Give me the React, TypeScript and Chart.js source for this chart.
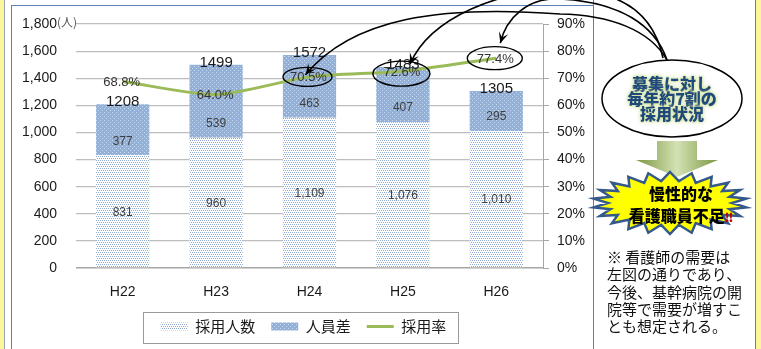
import React, { useEffect, useRef } from 'react';
import { Chart, registerables } from 'chart.js';

Chart.register(...registerables);

// ---- data ----
const categories = ['H22', 'H23', 'H24', 'H25', 'H26'];
const hiredCounts = [831, 960, 1109, 1076, 1010];
const staffGap = [377, 539, 463, 407, 295];
const hireRates = [68.8, 64.0, 70.5, 72.6, 77.4];
const seriesNames = ['採用人数', '人員差', '採用率'];
const circledIndexes = [2, 3, 4];
const leftMax = 1800;
const leftStep = 200;
const rightMax = 90;
const rightStep = 10;
const unitLabel = '(人)';

const FONT = "'Liberation Sans', Arial, 'Noto Sans CJK JP', sans-serif";
const CJK = "'Noto Sans CJK JP', 'Liberation Sans', sans-serif";

function makePattern(bg: string, dot: string, cells: number[][]) {
  const c = document.createElement('canvas');
  c.width = 4;
  c.height = 4;
  const g = c.getContext('2d')!;
  g.fillStyle = bg;
  g.fillRect(0, 0, 4, 4);
  g.fillStyle = dot;
  cells.forEach(([x, y]) => g.fillRect(x, y, 1, 1));
  return g.createPattern(c, 'repeat')!;
}

function arrowHead(ctx: CanvasRenderingContext2D, fx: number, fy: number, tx: number, ty: number) {
  const a = Math.atan2(ty - fy, tx - fx);
  const L = 12;
  const s = 0.42;
  ctx.beginPath();
  ctx.moveTo(tx, ty);
  ctx.lineTo(tx - L * Math.cos(a - s), ty - L * Math.sin(a - s));
  ctx.lineTo(tx - 6 * Math.cos(a), ty - 6 * Math.sin(a));
  ctx.lineTo(tx - L * Math.cos(a + s), ty - L * Math.sin(a + s));
  ctx.closePath();
  ctx.fill();
}

export default function App() {
  const ref = useRef<HTMLCanvasElement>(null);

  useEffect(() => {
    const canvas = ref.current!;
    const bottomPattern = makePattern('#ffffff', '#8faad2', [[0, 0], [2, 0], [1, 2], [3, 2]]);
    const topPattern = makePattern('#93b1d8', '#c9d9ee', [[0, 0], [2, 2]]);

    const valueLabels = {
      id: 'valueLabels',
      afterDatasetsDraw(chart: any) {
        const ctx = chart.ctx as CanvasRenderingContext2D;
        const m0 = chart.getDatasetMeta(0);
        const m1 = chart.getDatasetMeta(1);
        const m2 = chart.getDatasetMeta(2);
        ctx.save();
        ctx.textAlign = 'center';
        ctx.textBaseline = 'middle';
        ctx.fillStyle = '#404040';
        ctx.font = `12px ${FONT}`;
        m0.data.forEach((el: any, i: number) => {
          const { x, y, base } = el.getProps(['x', 'y', 'base'], true);
          ctx.fillText(hiredCounts[i].toLocaleString('en-US'), x, (y + base) / 2 + 1);
        });
        m1.data.forEach((el: any, i: number) => {
          const { x, base } = el.getProps(['x', 'base'], true);
          ctx.fillText(String(staffGap[i]), x, base - 14);
        });
        ctx.font = `15px ${FONT}`;
        ctx.fillStyle = '#1a1a1a';
        ctx.textBaseline = 'alphabetic';
        m1.data.forEach((el: any, i: number) => {
          const { x, y } = el.getProps(['x', 'y'], true);
          ctx.fillText(String(hiredCounts[i] + staffGap[i]), x, y + 2);
        });
        ctx.font = `13px ${FONT}`;
        ctx.fillStyle = '#333333';
        ctx.textBaseline = 'middle';
        m2.data.forEach((el: any, i: number) => {
          ctx.fillText(hireRates[i].toFixed(1) + '%', el.x - 1, el.y + 1);
        });
        ctx.restore();
      },
    };

    const decor = {
      id: 'decor',
      afterDraw(chart: any) {
        const ctx = chart.ctx as CanvasRenderingContext2D;
        const area = chart.chartArea;
        const yScale = chart.scales.y;
        ctx.save();

        // unit label
        ctx.font = `12px ${CJK}`;
        ctx.fillStyle = '#555';
        ctx.textAlign = 'left';
        ctx.textBaseline = 'middle';
        ctx.fillText(unitLabel, area.left - 19, yScale.getPixelForValue(leftMax) - 2);

        // legend frame
        const hb = chart.legend.legendHitBoxes;
        if (hb && hb.length) {
          const first = hb[0];
          const last = hb[hb.length - 1];
          const cy = first.top + first.height / 2;
          const l = Math.round(first.left - 18) + 0.5;
          const r = Math.round(last.left + last.width + 12) + 0.5;
          ctx.strokeStyle = '#9a9a9a';
          ctx.lineWidth = 1;
          ctx.strokeRect(l, Math.round(cy - 15) + 0.5, r - l, 31);
        }

        // ellipses around circled rates
        const m2 = chart.getDatasetMeta(2);
        const shapes: Record<number, number[]> = { 2: [-2, 0, 24.5, 9.5], 3: [-1.5, 2.5, 28.5, 12.5], 4: [-1.5, 0, 27.5, 11.5] };
        ctx.strokeStyle = '#000';
        ctx.lineWidth = 1.4;
        circledIndexes.forEach((i) => {
          const p = m2.data[i];
          const [dx, dy, rx, ry] = shapes[i];
          ctx.beginPath();
          ctx.ellipse(p.x + dx, p.y + dy, rx, ry, 0, 0, Math.PI * 2);
          ctx.stroke();
        });

        // right panel: callout ellipse
        ctx.fillStyle = '#fff';
        ctx.strokeStyle = '#000';
        ctx.lineWidth = 1.5;
        ctx.beginPath();
        ctx.ellipse(672, 98.5, 70, 38.5, 0, 0, Math.PI * 2);
        ctx.fill();
        ctx.stroke();

        // curved arrows
        const pA = m2.data[2];
        const pB = m2.data[3];
        const pC = m2.data[4];
        const tA = [pA.x - 4, pA.y - 2];
        const tB = [pB.x + 7, pB.y - 7];
        const tC = [pC.x + 4, pC.y - 15];
        ctx.strokeStyle = '#000';
        ctx.fillStyle = '#000';
        ctx.lineWidth = 1.6;
        // A
        ctx.beginPath();
        ctx.moveTo(667, 60);
        ctx.bezierCurveTo(650, 30, 610, 15, 560, 14);
        ctx.bezierCurveTo(440, 5, 352, 18, tA[0], tA[1]);
        ctx.stroke();
        arrowHead(ctx, 340, 30, tA[0], tA[1]);
        // B
        ctx.beginPath();
        ctx.moveTo(663, 58);
        ctx.bezierCurveTo(655, 20, 630, -8, 570, -10);
        ctx.bezierCurveTo(500, -12, 430, 18, tB[0], tB[1]);
        ctx.stroke();
        arrowHead(ctx, 425, 30, tB[0], tB[1]);
        // C
        ctx.beginPath();
        ctx.moveTo(667, 60);
        ctx.bezierCurveTo(655, 25, 620, 2, 560, -1);
        ctx.bezierCurveTo(528, -3, 506, 18, tC[0], tC[1]);
        ctx.stroke();
        arrowHead(ctx, 507, 22, tC[0], tC[1]);

        // block down arrow
        const grad = ctx.createLinearGradient(636, 0, 718, 0);
        grad.addColorStop(0, '#7b9640');
        grad.addColorStop(0.5, '#d4e2b4');
        grad.addColorStop(1, '#7b9640');
        ctx.fillStyle = grad;
        ctx.beginPath();
        ctx.moveTo(657, 141);
        ctx.lineTo(697, 141);
        ctx.lineTo(697, 160);
        ctx.lineTo(718, 160);
        ctx.lineTo(677, 177);
        ctx.lineTo(636, 160);
        ctx.lineTo(657, 160);
        ctx.closePath();
        ctx.fill();

        // starburst
        const cx = 670, cyb = 203, N = 22;
        ctx.beginPath();
        for (let k = 0; k < N * 2; k++) {
          const ang = (Math.PI * k) / N - Math.PI / 2;
          const outer = k % 2 === 0;
          const rx = outer ? 77 : 62;
          const ry = outer ? 31 : 22;
          const px = cx + rx * Math.cos(ang);
          const py = cyb + ry * Math.sin(ang);
          if (k === 0) ctx.moveTo(px, py);
          else ctx.lineTo(px, py);
        }
        ctx.closePath();
        ctx.fillStyle = '#ffff00';
        ctx.fill();
        ctx.strokeStyle = '#34598a';
        ctx.lineWidth = 2.5;
        ctx.lineJoin = 'miter';
        ctx.stroke();

        ctx.restore();
      },
    };

    const chart = new Chart(canvas, {
      type: 'bar',
      data: {
        labels: categories,
        datasets: [
          {
            label: seriesNames[0],
            data: hiredCounts,
            backgroundColor: bottomPattern,
            borderWidth: 0,
            order: 2,
            yAxisID: 'y',
            pointStyle: 'rect',
          } as any,
          {
            label: seriesNames[1],
            data: staffGap,
            backgroundColor: topPattern,
            borderWidth: 0,
            order: 2,
            yAxisID: 'y',
            pointStyle: 'rect',
          } as any,
          {
            type: 'line',
            label: seriesNames[2],
            data: hireRates,
            borderColor: '#9bbb59',
            backgroundColor: '#9bbb59',
            borderWidth: 3,
            pointRadius: 0,
            tension: 0.25,
            yAxisID: 'y1',
            order: 1,
            pointStyle: 'line',
          } as any,
        ],
      },
      options: {
        responsive: false,
        animation: false,
        devicePixelRatio: 1,
        events: [],
        datasets: { bar: { barPercentage: 0.57, categoryPercentage: 1 } },
        layout: { padding: { left: 22, right: 176, top: 24, bottom: 5 } },
        scales: {
          x: {
            stacked: true,
            grid: { display: false, drawTicks: false },
            border: { display: false },
            ticks: { color: '#1a1a1a', font: { size: 14, family: FONT }, padding: 16 },
            afterFit: (s: any) => {
              s.height = 35;
            },
          },
          y: {
            stacked: true,
            min: 0,
            max: leftMax,
            ticks: {
              stepSize: leftStep,
              padding: 19,
              color: '#1a1a1a',
              font: { size: 14, family: FONT },
              callback: (v: any) => Number(v).toLocaleString('en-US'),
            },
            grid: {
              drawTicks: false,
              color: (c: any) => (c.index === 0 ? '#a6a6a6' : '#bdbdbd'),
              lineWidth: (c: any) => (c.index === 0 ? 1.5 : 1.2),
            },
            border: { display: false },
            afterFit: (s: any) => {
              s.width = 54;
              s.paddingTop = 0;
              s.paddingBottom = 0;
            },
          },
          y1: {
            position: 'right',
            min: 0,
            max: rightMax,
            ticks: {
              stepSize: rightStep,
              padding: 8,
              color: '#1a1a1a',
              font: { size: 14, family: FONT },
              callback: (v: any) => `${v}%`,
            },
            grid: { drawOnChartArea: false, drawTicks: true, tickLength: 6, color: '#a6a6a6' },
            border: { display: true, color: '#a6a6a6', width: 1 },
            afterFit: (s: any) => {
              s.width = 42;
              s.paddingTop = 0;
              s.paddingBottom = 0;
            },
          },
        },
        plugins: {
          tooltip: { enabled: false },
          legend: {
            position: 'bottom',
            labels: {
              usePointStyle: true,
              pointStyleWidth: 27,
              boxHeight: 8,
              padding: 16,
              color: '#1a1a1a',
              font: { size: 15, family: CJK },
              sort: (a: any, b: any) => a.datasetIndex - b.datasetIndex,
            },
          },
        },
      } as any,
      plugins: [valueLabels, decor],
    });
    return () => chart.destroy();
  }, []);

  const blue = '#5b80b6';
  return (
    <div style={{ position: 'fixed', left: 0, top: 0, width: 761, height: 349, background: '#fff', overflow: 'hidden' }}>
      <div style={{ position: 'absolute', left: 0, top: 0, width: 4, height: 349, background: '#fbf59c', borderRight: '1px solid #9aa3b8' }} />
      <div style={{ position: 'absolute', left: 756, top: 0, width: 5, height: 349, background: '#fbf59c' }} />
      <div style={{ position: 'absolute', left: 11, top: 5, width: 582, height: 360, borderLeft: `1px solid ${blue}`, borderTop: `1px solid ${blue}` }} />
      <div style={{ position: 'absolute', left: 593, top: -5, width: 161, height: 360, borderLeft: `1px solid ${blue}`, borderRight: `1px solid ${blue}` }} />
      <canvas ref={ref} width={761} height={349} style={{ position: 'absolute', left: 0, top: 0, width: 761, height: 349 }} />
      <div
        style={{
          position: 'absolute',
          left: 602,
          width: 140,
          top: 76,
          textAlign: 'center',
          fontFamily: CJK,
          fontWeight: 900,
          fontSize: 16,
          lineHeight: '15px',
          color: '#1f497d',
          textShadow: '0 0 2px #d6e5a0, 0 0 3px #d6e5a0, 0 0 5px #c4d79b',
        }}
      >
        募集に対し
        <br />
        毎年約7割の
        <br />
        採用状況
      </div>
      <div
        style={{
          position: 'absolute',
          left: 611,
          width: 140,
          top: 182,
          textAlign: 'center',
          fontFamily: CJK,
          fontWeight: 900,
          fontSize: 16,
          lineHeight: '22px',
          color: '#000',
        }}
      >
        慢性的な
        <br />
        看護職員不足<span style={{ color: '#c00000', fontSize: 12 }}>‼</span>
      </div>
      <div
        style={{
          position: 'absolute',
          left: 607,
          top: 248,
          width: 150,
          fontFamily: CJK,
          fontSize: 15,
          lineHeight: '17.3px',
          color: '#111',
          whiteSpace: 'nowrap',
        }}
      >
        ※ 看護師の需要は
        <br />
        左図の通りであり、
        <br />
        今後、基幹病院の開
        <br />
        院等で需要が増すこ
        <br />
        とも想定される。
      </div>
    </div>
  );
}
